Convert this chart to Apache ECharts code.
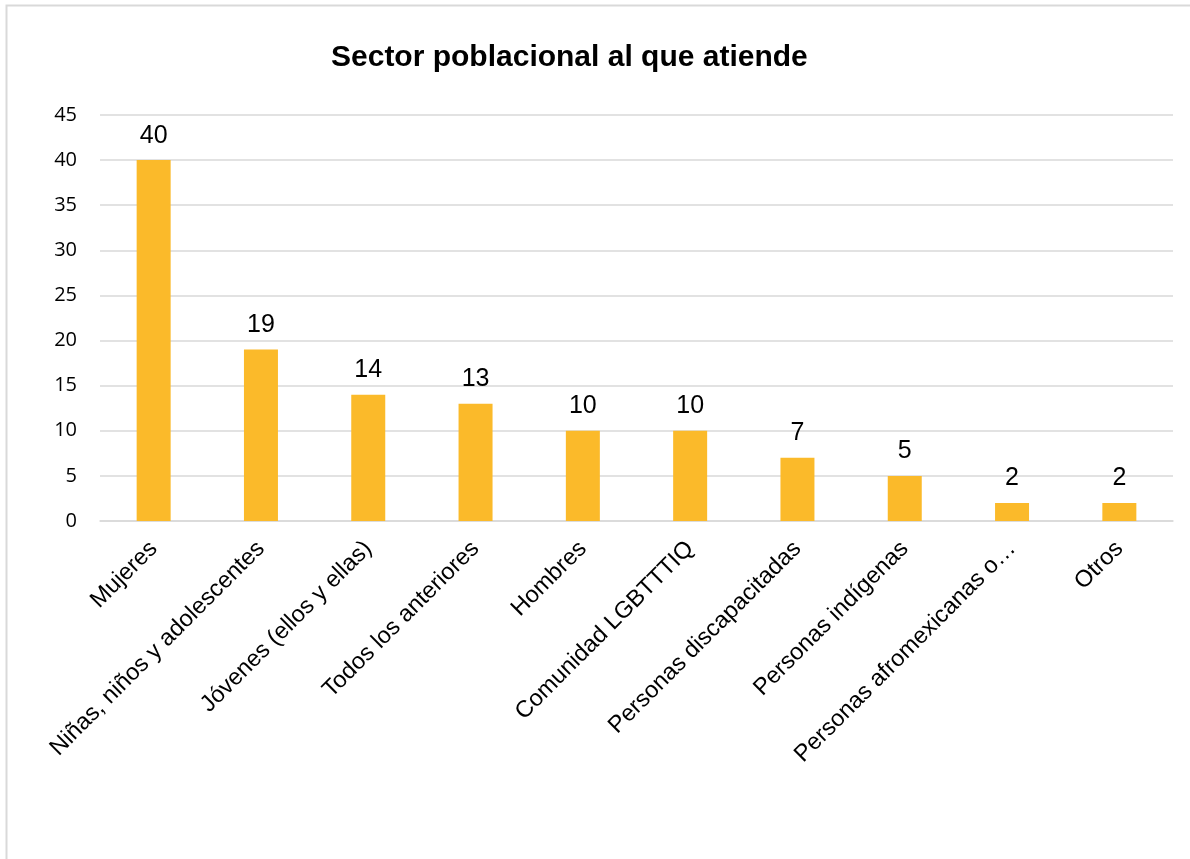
<!DOCTYPE html>
<html>
<head>
<meta charset="utf-8">
<script src="https://cdn.jsdelivr.net/npm/echarts@6/dist/echarts.min.js"></script>
<style>
  html, body { margin: 0; padding: 0; background: #ffffff; }
  #chart { width: 1190px; height: 859px; }
</style>
</head>
<body>
<div id="chart"></div>
<script>
// Population sectors served
const categories = [
  'Mujeres',
  'Niñas, niños y adolescentes',
  'Jóvenes (ellos y ellas)',
  'Todos los anteriores',
  'Hombres',
  'Comunidad LGBTTTIQ',
  'Personas discapacitadas',
  'Personas indígenas',
  'Personas afromexicanas o…',
  'Otros'
];
const counts = [40, 19, 14, 13, 10, 10, 7, 5, 2, 2];
const yTicks = { min: 0, max: 45, step: 5 };
const titleText = 'Sector poblacional al que atiende';

const chart = echarts.init(document.getElementById('chart'), null, { renderer: 'canvas' });

chart.setOption({
  backgroundColor: '#ffffff',
  animation: false,
  title: {
    text: titleText,
    left: 326,
    top: 38,
    textStyle: {
      fontFamily: 'Liberation Sans, Arial, sans-serif',
      fontSize: 30,
      fontWeight: 'bold',
      color: '#000000'
    }
  },
  graphic: [{
    type: 'rect',
    left: 4,
    top: 3,
    shape: { x: 0, y: 0, width: 1220, height: 900 },
    style: { fill: 'none', stroke: '#d9d9d9', lineWidth: 2 },
    silent: true
  }],
  grid: { left: 100, right: 17, top: 115, bottom: 338 },
  xAxis: {
    type: 'category',
    data: categories,
    axisLine: { lineStyle: { color: '#d9d9d9', width: 1.5 } },
    axisTick: { show: false },
    axisLabel: {
      interval: 0,
      rotate: 45,
      margin: 24,
      fontFamily: 'Liberation Sans, Arial, sans-serif',
      fontSize: 23.5,
      color: '#000000'
    }
  },
  yAxis: {
    type: 'value',
    min: yTicks.min,
    max: yTicks.max,
    interval: yTicks.step,
    axisLine: { show: false },
    axisTick: { show: false },
    splitLine: { lineStyle: { color: '#d9d9d9', width: 1.5 } },
    axisLabel: {
      margin: 23,
      fontFamily: '"Open Sans", sans-serif',
      fontSize: 20,
      color: '#000000'
    }
  },
  series: [{
    type: 'bar',
    data: counts,
    barWidth: 34,
    itemStyle: { color: '#FBBA2A' },
    label: {
      show: true,
      position: 'top',
      distance: 12,
      fontFamily: 'Liberation Sans, Arial, sans-serif',
      fontSize: 25,
      color: '#000000'
    }
  }]
});
</script>
</body>
</html>
